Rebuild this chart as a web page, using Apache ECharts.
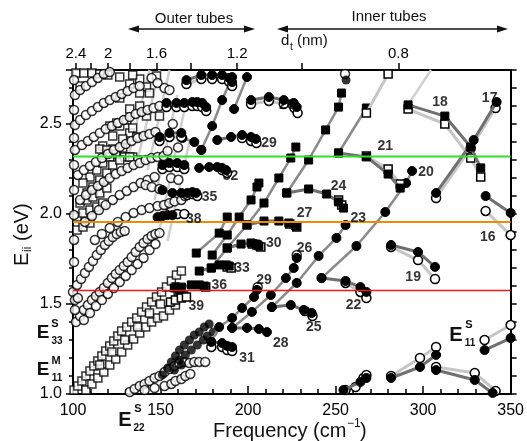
<!DOCTYPE html>
<html><head><meta charset="utf-8">
<script src="https://cdn.jsdelivr.net/npm/echarts@6/dist/echarts.min.js"></script>
<style>html,body{margin:0;padding:0;background:#fff}#c{width:527px;height:441px}</style>
</head><body><div id="c"></div>
<script>
// ---------- axis ticks ----------
const freqTicks = [100,150,200,250,300,350];
const eTicks = [1.0,1.5,2.0,2.5];
const dtTicks = [2.4,2.2,2.0,1.8,1.6,1.4,1.2,1.0,0.8];
const dtLabels = [2.4,2.0,1.6,1.2,0.8];
const laserE = [2.32,1.955,1.575];

// ---------- labelled families: F = filled, O = open ----------
const famR1F = [[164.8,2.744],[173.3,2.772],[179.5,2.772],[185.2,2.772],[189.2,2.756],[190.9,2.733]];
const famR1O = [[164.8,2.722],[173.3,2.75],[179.5,2.75],[185.2,2.75],[189.2,2.734],[190.9,2.711]];
const famR2F = [[153.4,2.617],[159.1,2.617],[163.6,2.617],[168.2,2.622],[171,2.622],[173.8,2.617],[176.1,2.594]];
const famR2O = [[153.4,2.594],[159.1,2.594],[163.6,2.594],[168.2,2.6],[171,2.6],[173.8,2.594],[176.1,2.572]];
const fam26F = [[201.7,2.633],[211.9,2.65],[220.4,2.633],[226.1,2.617],[227.8,2.594]];
const fam26O = [[201.7,2.611],[211.9,2.628],[220.4,2.611],[226.5,2.589],[228.3,2.561]];
const famR3F = [[149.4,2.428],[155.1,2.45],[161.9,2.45]];
const famR3O = [[149.4,2.406],[155.1,2.428],[161.9,2.428]];
const fam29F = [[182.4,2.411],[190.3,2.428],[196.6,2.439],[201.7,2.428],[204.5,2.417]];
const fam29O = [[196.6,2.422],[201.7,2.406],[204.8,2.394]];
const famR4F = [[151.1,2.272],[155.1,2.283],[159.6,2.283],[163.6,2.272]];
const famR4O = [[151.1,2.25],[155.1,2.261],[159.6,2.261],[163.6,2.25]];
const fam32F = [[172.1,2.256],[177.8,2.261],[182.4,2.261],[185.2,2.256],[187.5,2.244]];
const fam32O = [[185.2,2.244],[188,2.228]];
const fam35F = [[151.1,2.133],[156.8,2.117],[161.9,2.117],[165.3,2.117],[168.2,2.122],[170.4,2.117]];
const fam35O = [[165.3,2.106],[168.2,2.111],[171,2.1]];
const fam38F = [[148.3,1.983],[151.1,1.989],[154,1.994],[156.8,1.994]];
const fam38O = [[159.6,2.0],[163.6,2.0]];
const fam27F = [[199.4,1.939],[209.1,1.961],[217.6,1.961],[223.3,1.95],[227.3,1.933]];
const fam27O = [[223.8,1.944],[227.8,1.928]];
const fam30F = [[188.1,1.811],[196,1.833],[201.7,1.839],[204.5,1.833],[206.2,1.822]];
const fam30O = [[202.5,1.833],[205.1,1.828],[207.3,1.817]];
const fam33F = [[172.1,1.683],[179,1.7],[183.5,1.717],[187.5,1.717],[189.2,1.711]];
const fam33O = [[188.1,1.706],[190.3,1.7]];
const fam36F = [[158,1.589],[161.9,1.594],[167.6,1.606],[172.1,1.606],[175,1.6]];
const fam36O = [[175.8,1.594]];
const fam39O = [[155.7,1.511],[158.5,1.522],[161.9,1.533],[164.8,1.539]];
const fam24F = [[222.1,2.117],[234.6,2.139],[244.9,2.111],[251.7,2.067],[254.5,2.033]];
const fam24O = [[251.7,2.078],[253.5,2.05]];
const fam21F = [[251.7,2.339],[267.6,2.317],[280,2.222],[286.9,2.144]];
const fam21O = [[267.6,2.322],[280,2.25],[286.9,2.167]];
const fam18F = [[291.4,2.606],[312.4,2.544],[327.2,2.372],[332.9,2.256]];
const fam18O = [[291.4,2.583],[312.4,2.5],[327.2,2.311],[332.9,2.206]];
const fam17F = [[342,2.622],[328.9,2.411],[307.4,2.117]];
const fam17O = [[341.4,2.589],[327.2,2.367],[307.4,2.089]];
const fam16F = [[335.7,2.1],[350,2.006]];
const fam16O = [[335.7,2.017],[350,1.883]];
const fam19F = [[281.7,1.828],[297.1,1.789],[306.8,1.706]];
const fam19O = [[281.7,1.817],[297.1,1.744],[306.8,1.639]];
const fam22F = [[242,1.644],[255.7,1.628],[264.2,1.594],[267.6,1.567]];
const fam22O = [[255.7,1.617],[264.2,1.567],[267.6,1.533]];
const fam25F = [[213.6,1.483],[224.4,1.494],[231.8,1.467],[236.3,1.45]];
const fam25O = [[232.5,1.461],[236.8,1.433]];
const fam28F = [[190.9,1.367],[199.4,1.367],[206.2,1.361],[210.8,1.344]];
const fam31F = [[179,1.289],[185.2,1.283],[188.1,1.267],[190.9,1.261]];
const fam31O = [[179,1.261],[185.2,1.261],[188.1,1.244],[190.9,1.239]];
const e11aF = [[254.5,1.022],[264.2,1.067],[267.6,1.089]];
const e11aO = [[255.7,1.022],[261.4,1.039],[265.9,1.089],[267.6,1.106]];
const e11bF = [[281.7,1.089],[298.2,1.15],[307.4,1.217]];
const e11bO = [[281.7,1.1],[298.2,1.2],[307.4,1.261]];
const e11cF = [[307.4,1.133],[329.5,1.078],[339.7,1.006]];
const e11cO = [[307.4,1.15],[329.5,1.117],[341.4,1.017]];
const e11dF = [[335.1,1.244],[350,1.311]];
const e11dO = [[335.1,1.3],[350,1.383]];

// ---------- diagonal connecting lines ----------
const diagSqA = [[170.4,1.783],[183.5,1.894],[188.1,1.983]];
const diagSqB = [[179.5,1.772],[188.1,1.883],[194.9,1.983],[201.7,2.078],[205.1,2.15],[206.2,2.172]];
const diagSqC = [[179,1.7],[188.1,1.811],[199.4,1.939],[209.1,2.061],[217.6,2.2],[224.4,2.311],[227.3,2.372]];
const diagSqD = [[222.1,2.117],[234.6,2.3],[244.3,2.467],[251.7,2.594],[253.4,2.672]];
const line21upF = [[251.7,2.339],[267.6,2.589]];
const line21upO = [[267.6,2.561],[280,2.778]];
const line18up = [[291.4,2.606],[304.5,2.8]];
const lineU0 = [[162.5,2.422],[169.3,2.4],[173.3,2.356]];
const lineU1 = [[173.3,2.356],[179.5,2.489],[185.2,2.633],[190.9,2.761]];
const lineU2 = [[192,2.583],[199.4,2.761]];
const line20 = [[242,1.644],[261.9,1.822],[278.4,2.011],[290.3,2.172],[293.7,2.239]];
const line23 = [[255.7,1.939],[250.5,1.867],[240.3,1.767],[227.8,1.617],[213.6,1.483]];
const line26 = [[227.8,1.756],[226.1,1.7],[221.6,1.644],[213,1.55],[202.2,1.456],[190.9,1.367]];
const line29 = [[205.1,1.578],[203.4,1.539],[196.6,1.478],[190.9,1.422],[183.5,1.372],[179,1.289]];
const diagOpen = [[227.8,1.772],[205.5,1.594],[255.4,2.778]];
const topFilled = [[256,2.744]];
const guide1 = [[131.2,2.3],[143.7,2.8]];
const guide2 = [[136.9,2.3],[149.4,2.8]];
const guide3 = [[142.6,2.244],[155.1,2.8]];
const guide4 = [[146.6,2.078],[159.6,2.661]];
const guide5 = [[149.4,1.911],[163.6,2.578]];
const guide6 = [[154,1.85],[166.5,2.4]];

// ---------- outer-tube clouds ----------
const cloudOpenSquares = [
 [100.6,1.022],[102.8,1.044],[105.1,1.072],[107.4,1.1],[109.7,1.128],[111.9,1.156],[114.2,1.183],[116.5,1.211],[118.7,1.239],[121.0,1.267],[123.3,1.294],[125.6,1.322],[127.8,1.35],[130.7,1.372],[133.5,1.4],[136.4,1.422],[139.2,1.456],[142.0,1.483],[144.9,1.511],[147.7,1.539],[150.6,1.567],[153.4,1.594],[156.2,1.628],[159.1,1.661],[161.9,1.683],
 [107.4,1.022],[110.8,1.056],[114.2,1.089],[117.6,1.122],[121.0,1.161],[124.4,1.194],[127.8,1.233],[131.2,1.272],[134.6,1.306],[138.1,1.339],[141.5,1.372],[144.9,1.4],[148.3,1.422],[151.7,1.433],[155.1,1.467],[158.5,1.494],
 [115.3,1.161],[122.2,1.233],[129.5,1.3],[136.9,1.372],[143.7,1.45],[150,1.5],
 [104,2.711],[132.4,2.722],[138.1,2.75],[147.7,2.767],[134.1,2.772],[142,2.706],[143.7,2.672],[138.1,2.672],[126.7,2.644],[132.4,2.583],[138.1,2.6],[142,2.544],[149.4,2.544],[121,2.489],[126.7,2.489],[132.4,2.45],[122.7,2.433],[128.4,2.417],[117,2.378],[115.3,2.361],[122.7,2.361],[128.4,2.367],[125,2.506],[130.7,2.522],[134.1,2.478],[136.4,2.428],[119.3,2.356],[129.5,2.317],[134.1,2.317],[136.9,2.3],[124.4,2.33],
 [109.7,2.206],[113.6,2.244],[117,2.283],[121,2.317],[105.7,2.172],[108,2.117],[111.4,2.15],[115.3,2.189],[119.3,2.228],[104,2.061],[108,2.078],[111.4,2.094],[115.3,2.117],[119.3,2.144],[102.3,1.983],[105.7,2.006],[109.7,2.022],[113.6,2.039],[117,2.061],[102.3,1.911],[105.7,1.928],[109.7,1.95],[132.4,2.317],[122.7,2.272],[126.7,2.3],
 [101.7,2.783],[106.2,2.783],[110.8,2.783],[115.3,2.778],[119.9,2.772],[126.7,2.761]
];
const cloudOpenCircles = [
 [132.4,1.011],[135.2,1.028],[138.1,1.044],[140.9,1.056],[143.7,1.072],[146.6,1.089],[149.4,1.1],[152.3,1.122],[155.1,1.139],[157.9,1.156],[160.8,1.172],[163.6,1.178],[166.5,1.172],[169.3,1.178],[172.1,1.178],[175.5,1.178],[140.9,1.022],[146.6,1.033],[152.3,1.044],[156.2,1.056],[158.5,1.072],[161.9,1.083],[164.2,1.1],[167,1.111],
 [101.7,1.4],[104,1.433],[106.2,1.467],[108.5,1.494],[110.8,1.522],[113.1,1.544],[115.3,1.567],[117.6,1.589],[119.9,1.617],[122.2,1.644],[124.4,1.667],[126.7,1.689],[129,1.711],[131.2,1.733],[133.5,1.761],[135.8,1.789],[138.1,1.817],[140.3,1.839],[142.6,1.861],[144.9,1.878],[147.1,1.889],[149.4,1.894],
 [106.2,1.411],[109.7,1.45],[113.1,1.489],[116.5,1.522],[119.9,1.556],[123.3,1.589],[126.7,1.622],[130.1,1.656],[133.5,1.689],[136.9,1.722],[140.3,1.756],[143.7,1.8],[147.1,1.833],
 [100,1.567],[102.3,1.606],[104.6,1.639],[106.8,1.672],[109.1,1.706],[111.4,1.739],[113.6,1.772],[115.9,1.8],[118.2,1.828],[120.4,1.85],[122.7,1.872],[125,1.889],[127.3,1.9],[129.5,1.906],[101.1,1.522],[101.1,1.467],[102.8,1.533],
 [101.1,2.661],[104,2.689],[107.4,2.711],[110.8,2.733],[114.2,2.756],[117.6,2.778],[121,2.789],
 [101.1,2.494],[104,2.522],[107.4,2.55],[110.8,2.572],[114.2,2.594],[117.6,2.617],[121,2.633],[124.4,2.65],[127.8,2.667],[131.2,2.683],[134.6,2.7],[138.1,2.711],
 [101.1,2.356],[105.1,2.383],[108.5,2.406],[111.9,2.428],[115.3,2.45],[118.7,2.472],[122.2,2.489],[125.6,2.506],[129,2.522],[132.4,2.539],[135.8,2.556],[139.2,2.567],[142.6,2.578],[146,2.589],[149.4,2.6],
 [102.8,2.217],[106.2,2.244],[109.7,2.267],[113.1,2.289],[116.5,2.311],[119.9,2.333],[123.3,2.356],[126.7,2.372],[130.1,2.389],[133.5,2.406],[136.9,2.422],[140.3,2.433],[143.7,2.444],[147.1,2.456],
 [104,2.078],[107.4,2.106],[110.8,2.133],[114.2,2.156],[117.6,2.178],[121,2.2],[124.4,2.222],[127.8,2.239],[131.2,2.256],[134.6,2.272],[138.1,2.283],[141.5,2.3],[144.9,2.311],[148.3,2.317],[151.7,2.322],
 [106.8,1.956],[110.8,1.989],[114.8,2.022],[118.7,2.05],[122.7,2.078],[126.7,2.106],[130.7,2.128],[134.6,2.15],[138.6,2.172],[142.6,2.189],[146.6,2.206],
 [112.5,1.856],[116.5,1.889],[121,1.922],[125.6,1.956],[130.1,1.983],[134.6,2.006],[139.2,2.022],[143.7,2.033],[148.3,2.044],[152.8,2.05],
 [100.6,2.744],[100.6,2.578],[100.6,2.422],[100.6,2.272],[100.6,2.133],[100.6,1.994],[100.6,1.856],[100.6,1.733],
 [141.5,2.161],[145,2.15],[149.4,2.139],[152,2.05],[155,2.06],[158,2.07],[161.9,2.078],[164,2.1],
 [144.9,2.756],[148.3,2.728],[152.3,2.7],[155.1,2.689],[157,2.5],[160,2.37],[154,2.35],[156,2.2],[160.2,2.19]
];
const cloudFilledCircles = [
 [151.1,1.106],[154,1.144],[156.2,1.178],[158.5,1.211],[160.8,1.244],[163.6,1.272],[166.5,1.3],[169.3,1.328],[172.1,1.344],[175,1.372],[177.8,1.389],
 [160.8,1.189],[164.2,1.217],[167.6,1.244],[171,1.272],[174.4,1.3],[176.7,1.322],[180.1,1.344],[157.9,1.133],[161.9,1.161]
];
const cloudFilledSquares = [[158.5,1.6],[160.8,1.578],[161.9,1.561],[163.6,1.55],[159.6,1.544]];

// ---------- family numbers ----------
const famLabels = [
 [222.1,2.606,'26'],[212,2.394,'29'],[190,2.211,'32'],[178,2.094,'35'],[169,1.972,'38'],
 [232.3,2.006,'27'],[251.7,2.156,'24'],[278.4,2.378,'21'],[301.6,2.233,'20'],[309.6,2.622,'18'],
 [338,2.644,'17'],[263,1.978,'23'],[336.9,1.872,'16'],[214.7,1.839,'30'],[232.3,1.811,'26'],
 [196.6,1.7,'33'],[183.5,1.606,'36'],[170.4,1.489,'39'],[209.1,1.633,'29'],[260.2,1.494,'22'],
 [294.3,1.65,'19'],[237.5,1.372,'25'],[218.7,1.283,'28'],[199.4,1.2,'31']
];

// ---------- build ----------
const FONT = 'Liberation Sans, Arial, sans-serif';
const dtToFreq = d => 221 / d + 9.6;   // RBM relation used by the top axis
const freqToDt = f => 221 / (f - 9.6);

function filledLine(data, sym){
  return {type:'line', data, symbol: sym, symbolSize: sym==='rect'?8:9, z:6,
    lineStyle:{color:'#707070', width:3}, itemStyle:{color:'#000', borderColor:'#000', borderWidth:1}, animation:false, silent:true};
}
function openLine(data, sym){
  return {type:'line', data, symbol: sym, symbolSize: sym==='rect'?8:9, z:5,
    lineStyle:{color:'#c6c6c6', width:3}, itemStyle:{color:'#fff', borderColor:'#000', borderWidth:1.5}, animation:false, silent:true};
}
function guide(data){
  return {type:'line', data, symbol:'none', z:2, lineStyle:{color:'#cfcfcf', width:2.5}, animation:false, silent:true};
}
function cloud(data, sym, filled){
  return {type:'scatter', data, symbol:sym, symbolSize: sym==='rect'?8:9, z:3,
    itemStyle: filled ? {color:'#000'} : {color:'#fff', borderColor:'#000', borderWidth:1.5}, animation:false, silent:true};
}

const series = [];
[guide1,guide2,guide3,guide4,guide5,guide6,line18up].forEach(g=>series.push(guide(g)));
series.push(cloud(cloudOpenSquares,'rect',false));
series.push(cloud(cloudOpenCircles,'circle',false));
series.push(cloud(cloudFilledCircles,'circle',true));
series.push(cloud(cloudFilledSquares,'rect',true));
[diagSqA,diagSqB,diagSqC,diagSqD,line21upF].forEach(d=>{const s=filledLine(d,'rect'); s.lineStyle.color='#8a8a8a'; s.lineStyle.width=2.5; s.z=4; series.push(s);});
series.push(openLine(line21upO,'rect'));
[lineU0,lineU1,lineU2,line20,line23,line26,line29].forEach(d=>{const s=filledLine(d,'circle'); s.lineStyle.color='#8a8a8a'; s.lineStyle.width=2.5; s.z=4; series.push(s);});
series.push(cloud(diagOpen,'circle',false));
series.push(cloud(topFilled,'circle',true));
const openCirc = [famR1O,famR2O,fam26O,famR3O,fam29O,famR4O,fam32O,fam35O,fam38O,fam17O,fam16O,fam19O,fam22O,fam25O,fam31O,e11aO,e11bO,e11cO,e11dO];
const filledCirc = [famR1F,famR2F,fam26F,famR3F,fam29F,famR4F,fam32F,fam35F,fam38F,fam17F,fam16F,fam19F,fam22F,fam25F,fam28F,fam31F,e11aF,e11bF,e11cF,e11dF];
const openSq = [fam27O,fam30O,fam33O,fam36O,fam39O,fam24O,fam21O,fam18O];
const filledSq = [fam27F,fam30F,fam33F,fam36F,fam24F,fam21F,fam18F];
openCirc.forEach(d=>series.push(openLine(d,'circle')));
openSq.forEach(d=>series.push(openLine(d,'rect')));
filledCirc.forEach(d=>series.push(filledLine(d,'circle')));
filledSq.forEach(d=>series.push(filledLine(d,'rect')));
const laserColors = ['#2fe02f','#f08a00','#f01818'];
laserE.forEach((e,i)=>series.push({type:'line', data:[[100,e],[350,e]], symbol:'none', z:8,
  lineStyle:{color:laserColors[i], width: i===2?1.5:2}, animation:false, silent:true}));
series.push({type:'scatter', data:famLabels, symbolSize:1, z:9, itemStyle:{color:'rgba(0,0,0,0)'},
  label:{show:true, position:'inside', formatter:p=>p.value[2], color:'#000', fontSize:14, fontWeight:'bold', fontFamily:FONT},
  animation:false, silent:true});

const axisLineStyle = {color:'#000', width:2};
const option = {
  animation:false,
  grid:{left:73, right:14, top:70, bottom:47, containLabel:false},
  xAxis:[
    {type:'value', min:100, max:350, interval:50, position:'bottom',
     axisLine:{show:true, onZero:false, lineStyle:axisLineStyle},
     axisTick:{inside:true, length:8, lineStyle:{color:'#000', width:1.5}},
     minorTick:{show:true, splitNumber:5, length:5, lineStyle:{color:'#000', width:1.5}},
     splitLine:{show:false},
     axisLabel:{color:'#000', fontSize:16, fontFamily:FONT, margin:9,
       customValues: freqTicks}},
    {type:'value', min:100, max:350, position:'top',
     axisLine:{show:true, onZero:false, lineStyle:axisLineStyle},
     axisTick:{inside:false, length:7, lineStyle:{color:'#000', width:1.5}, customValues: dtTicks.map(dtToFreq)},
     splitLine:{show:false},
     axisLabel:{color:'#000', fontSize:15, fontFamily:FONT, margin:9,
       customValues: dtLabels.map(dtToFreq),
       formatter: v => String(Number(freqToDt(v).toFixed(1)))}}
  ],
  yAxis:[
    {type:'value', min:1.0, max:2.8, interval:0.5, position:'left',
     axisLine:{show:true, onZero:false, lineStyle:axisLineStyle},
     axisTick:{inside:false, length:7, lineStyle:{color:'#000', width:1.5}},
     splitLine:{show:false},
     axisLabel:{color:'#000', fontSize:16, fontFamily:FONT, margin:11, customValues: eTicks, formatter:v=>v.toFixed(1)}},
    {type:'value', min:1.0, max:2.8, interval:0.1, position:'left',
     axisLine:{show:false}, axisTick:{inside:false, length:4, lineStyle:{color:'#000', width:1.5}},
     axisLabel:{show:false}, splitLine:{show:false}},
    {type:'value', min:1.0, max:2.8, interval:0.1, position:'right',
     axisLine:{show:true, onZero:false, lineStyle:axisLineStyle},
     axisTick:{inside:false, length:6, lineStyle:{color:'#000', width:1.5}},
     axisLabel:{show:false}, splitLine:{show:false}}
  ],
  series,
  graphic:[
    {type:'text', style:{x:194, y:19, text:'Outer tubes', font:'15px '+FONT, fill:'#111', textAlign:'center', textVerticalAlign:'middle'}},
    {type:'line', shape:{x1:132, y1:29, x2:251, y2:29}, style:{stroke:'#111', lineWidth:1.6}},
    {type:'polygon', shape:{points:[[128,29],[139,25.5],[139,32.5]]}, style:{fill:'#111'}},
    {type:'polygon', shape:{points:[[255,29],[244,25.5],[244,32.5]]}, style:{fill:'#111'}},
    {type:'text', style:{x:389, y:17, text:'Inner tubes', font:'15px '+FONT, fill:'#111', textAlign:'center', textVerticalAlign:'middle'}},
    {type:'line', shape:{x1:281, y1:29, x2:504, y2:29}, style:{stroke:'#111', lineWidth:1.6}},
    {type:'polygon', shape:{points:[[277,29],[288,25.5],[288,32.5]]}, style:{fill:'#111'}},
    {type:'polygon', shape:{points:[[508,29],[497,25.5],[497,32.5]]}, style:{fill:'#111'}},
    {type:'text', style:{x:281, y:41, text:'d', font:'15px '+FONT, fill:'#111', textAlign:'left', textVerticalAlign:'middle'}},
    {type:'text', style:{x:290, y:47, text:'t', font:'10px '+FONT, fill:'#111', textAlign:'left', textVerticalAlign:'middle'}},
    {type:'text', style:{x:297, y:41, text:'(nm)', font:'15px '+FONT, fill:'#111', textAlign:'left', textVerticalAlign:'middle'}},
    {type:'group', x:22, y:266, rotation:Math.PI/2, children:[
      {type:'text', style:{x:0, y:0, text:'E', font:'20px '+FONT, fill:'#111', textAlign:'left', textVerticalAlign:'middle'}},
      {type:'text', style:{x:14, y:6, text:'ii', font:'12px '+FONT, fill:'#111', textAlign:'left', textVerticalAlign:'middle'}},
      {type:'text', style:{x:25, y:0, text:'(eV)', font:'20px '+FONT, fill:'#111', textAlign:'left', textVerticalAlign:'middle'}}
    ]},
    {type:'text', style:{x:43, y:333, text:'E', font:'bold 19px '+FONT, fill:'#111', textAlign:'center', textVerticalAlign:'middle'}},
    {type:'text', style:{x:55, y:324, text:'S', font:'bold 11px '+FONT, fill:'#111', textAlign:'center', textVerticalAlign:'middle'}},
    {type:'text', style:{x:57, y:341, text:'33', font:'bold 10px '+FONT, fill:'#111', textAlign:'center', textVerticalAlign:'middle'}},
    {type:'text', style:{x:43, y:370, text:'E', font:'bold 19px '+FONT, fill:'#111', textAlign:'center', textVerticalAlign:'middle'}},
    {type:'text', style:{x:56, y:361, text:'M', font:'bold 11px '+FONT, fill:'#111', textAlign:'center', textVerticalAlign:'middle'}},
    {type:'text', style:{x:57, y:378, text:'11', font:'bold 10px '+FONT, fill:'#111', textAlign:'center', textVerticalAlign:'middle'}},
    {type:'text', style:{x:125, y:420, text:'E', font:'bold 20px '+FONT, fill:'#111', textAlign:'center', textVerticalAlign:'middle'}},
    {type:'text', style:{x:138, y:409, text:'S', font:'bold 11px '+FONT, fill:'#111', textAlign:'center', textVerticalAlign:'middle'}},
    {type:'text', style:{x:139, y:428, text:'22', font:'bold 10px '+FONT, fill:'#111', textAlign:'center', textVerticalAlign:'middle'}},
    {type:'text', style:{x:456, y:335, text:'E', font:'bold 20px '+FONT, fill:'#111', textAlign:'center', textVerticalAlign:'middle'}},
    {type:'text', style:{x:469, y:325, text:'S', font:'bold 11px '+FONT, fill:'#111', textAlign:'center', textVerticalAlign:'middle'}},
    {type:'text', style:{x:470, y:343, text:'11', font:'bold 10px '+FONT, fill:'#111', textAlign:'center', textVerticalAlign:'middle'}},
    {type:'text', style:{x:213, y:431, text:'Frequency (cm', font:'20px '+FONT, fill:'#111', textAlign:'left', textVerticalAlign:'middle'}},
    {type:'text', style:{x:347, y:424, text:'\u22121', font:'12px '+FONT, fill:'#111', textAlign:'left', textVerticalAlign:'middle'}},
    {type:'text', style:{x:360, y:431, text:')', font:'20px '+FONT, fill:'#111', textAlign:'left', textVerticalAlign:'middle'}}
  ]
};
const chart = echarts.init(document.getElementById('c'), null, {renderer:'canvas'});
chart.setOption(option);
</script></body></html>
